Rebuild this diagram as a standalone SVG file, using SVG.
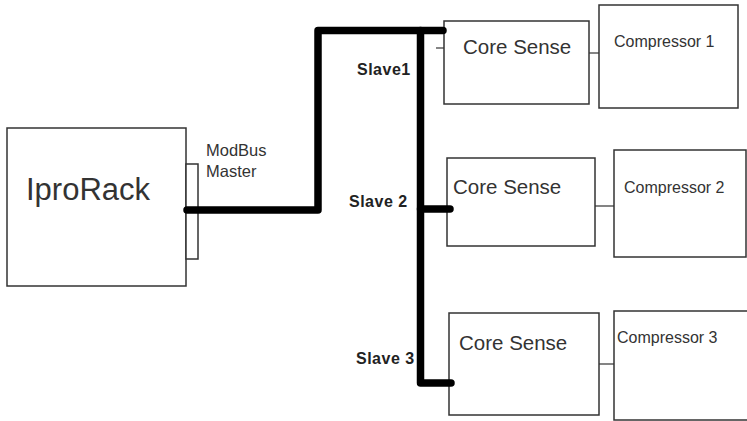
<svg xmlns="http://www.w3.org/2000/svg" width="747" height="421" viewBox="0 0 747 421">
<style>
.box{fill:#fff;stroke:#333;stroke-width:1.5}
.thin{stroke:#333;stroke-width:1.2;fill:none}
.bus{stroke:#000;stroke-width:7.5;fill:none;stroke-linecap:round;stroke-linejoin:round}
.t{font-family:"Liberation Sans",Arial,sans-serif;fill:#333}
.cs{font-size:20.5px}
.cp{font-size:16px}
.sl{font-family:"Liberation Sans",Arial,sans-serif;font-weight:bold;font-size:16px;letter-spacing:0.5px;fill:#222}
</style>
<rect width="747" height="421" fill="#fff"/>
<g id="iprorack">
<rect class="box" x="7" y="128" width="179" height="158"/>
<rect class="box" x="186" y="164" width="12" height="95"/>
<text class="t" x="26" y="200" font-size="31">IproRack</text>
</g>
<g id="modbus-label">
<text class="t" x="206" y="156" font-size="16.5">ModBus</text>
<text class="t" x="206" y="177" font-size="16.5">Master</text>
</g>
<g id="slave-labels">
<text class="sl" x="357" y="75">Slave1</text>
<text class="sl" x="349" y="207">Slave 2</text>
<text class="sl" x="356" y="364">Slave 3</text>
</g>
<g id="coresense1">
<rect class="box" x="444" y="21" width="145" height="83"/>
<text class="t cs" x="463" y="54">Core Sense</text>
</g>
<g id="compressor1">
<rect class="box" x="599" y="5" width="139" height="103"/>
<text class="t cp" x="614" y="47">Compressor 1</text>
</g>
<g id="coresense2">
<rect class="box" x="447" y="158" width="148" height="88"/>
<text class="t cs" x="453" y="194">Core Sense</text>
</g>
<g id="compressor2">
<rect class="box" x="614" y="150" width="132" height="107"/>
<text class="t cp" x="624" y="193">Compressor 2</text>
</g>
<g id="coresense3">
<rect class="box" x="449" y="313" width="150" height="102"/>
<text class="t cs" x="459" y="350">Core Sense</text>
</g>
<g id="compressor3">
<rect class="box" x="614" y="311" width="140" height="109"/>
<text class="t cp" x="617" y="343">Compressor 3</text>
</g>
<g id="connectors">
<path class="bus" d="M187 210 H318 V30.5 H443"/>
<path class="bus" d="M420.5 30.5 V383 H451"/>
<path class="bus" d="M420.5 209 H450"/>
<line class="thin" x1="436" y1="48" x2="444" y2="48"/>
<line class="thin" x1="589" y1="53" x2="599" y2="53"/>
<line class="thin" x1="595" y1="206" x2="614" y2="206"/>
<line class="thin" x1="599" y1="364" x2="614" y2="364"/>
</g>
</svg>
